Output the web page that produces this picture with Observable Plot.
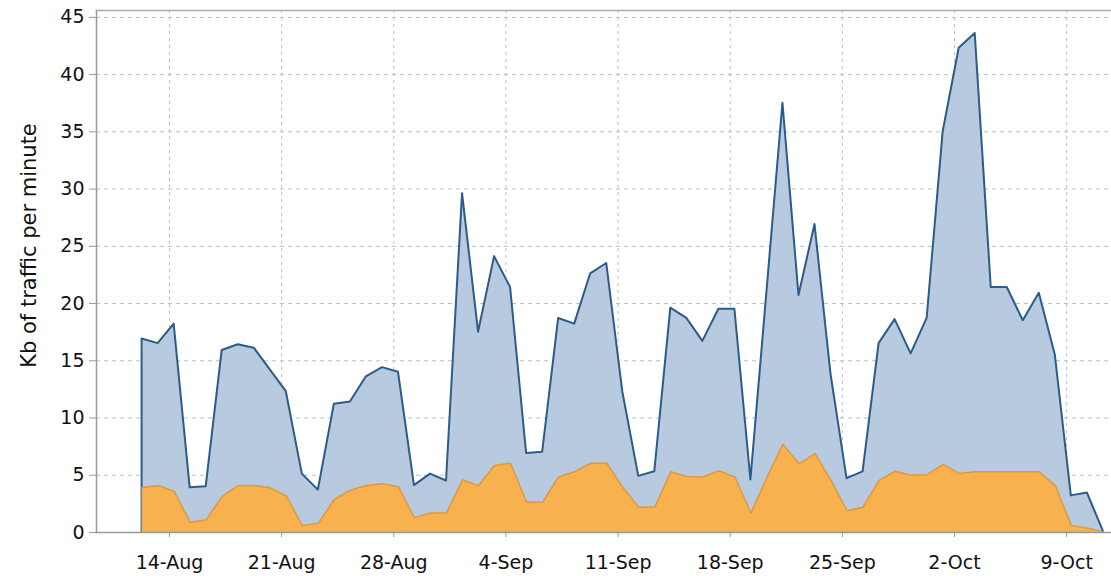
<!DOCTYPE html>
<html><head><meta charset="utf-8">
<script src="https://cdn.jsdelivr.net/npm/d3@7"></script>
<script src="https://cdn.jsdelivr.net/npm/@observablehq/plot@0.6"></script>
<style>html,body{margin:0;padding:0;background:#fff}</style>
</head><body><div id="chart"></div>
<script>
// First sample day; one sample per day (taken ~07:00)
const startDay = "2011-08-12";
const sampleHour = 7;
const total = [16.9,16.5,18.2,3.9,4.0,15.9,16.4,16.1,14.2,12.3,
               5.1,3.7,11.2,11.4,13.6,14.4,14.0,4.1,5.1,4.5,
               29.6,17.5,24.1,21.4,6.9,7.0,18.7,18.2,22.6,23.5,
               12.3,4.9,5.3,19.6,18.7,16.7,19.5,19.5,4.6,21.0,
               37.5,20.7,26.9,13.8,4.7,5.3,16.5,18.6,15.6,18.7,
               35.0,42.3,43.6,21.4,21.4,18.5,20.9,15.5,3.2,3.45,0.1];
const part = [3.9,4.1,3.6,0.9,1.1,3.15,4.1,4.1,3.9,3.2,
              0.6,0.8,2.9,3.7,4.1,4.25,4.0,1.3,1.7,1.7,
              4.6,4.1,5.85,6.05,2.65,2.65,4.85,5.3,6.05,6.05,
              3.95,2.2,2.2,5.3,4.9,4.85,5.4,4.85,1.7,4.8,
              7.7,6.0,6.9,4.55,1.9,2.2,4.55,5.35,5.0,5.05,
              5.95,5.15,5.3,5.3,5.3,5.3,5.3,4.1,0.6,0.4,0.05];
const xTickDates = ["2011-08-14","2011-08-21","2011-08-28","2011-09-04","2011-09-11",
                    "2011-09-18","2011-09-25","2011-10-02","2011-10-09"];
const yTicks = [0,5,10,15,20,25,30,35,40,45];
const yLabel = "Kb of traffic per minute";
const xDomain = ["2011-08-09T10:40Z","2011-10-11T19:10Z"];
const yDomain = [0, 45.6];

const start = new Date(startDay);
const days = d3.utcDay.range(start, d3.utcDay.offset(start, total.length))
  .map(d => d3.utcHour.offset(d, sampleHour));
const data = days.map((date, i) => ({date, total: total[i], part: part[i]}));
const xTicks = xTickDates.map(d => new Date(d));

const chart = Plot.plot({
  width: 1111, height: 576,
  marginLeft: 96, marginRight: 0, marginTop: 10, marginBottom: 44,
  style: {fontFamily: "DejaVu Sans", fontSize: "19px", color: "#111", background: "#fff"},
  x: {type: "utc", domain: xDomain.map(d => new Date(d))},
  y: {domain: yDomain},
  marks: [
    Plot.gridX(xTicks, {stroke: "#bdbdbd", strokeOpacity: 1, strokeDasharray: "3,4"}),
    Plot.gridY(yTicks, {stroke: "#bdbdbd", strokeOpacity: 1, strokeDasharray: "4,4"}),
    Plot.areaY(data, {x: "date", y: "total", fill: "#b7cadf", stroke: "#2b5c8a", strokeWidth: 2, strokeLinejoin: "round"}),
    Plot.areaY(data, {x: "date", y: "part", fill: "#f7b14e"}),
    Plot.lineY(data, {x: "date", y: "part", stroke: "#dc9a42", strokeWidth: 1.5}),
    Plot.frame({anchor: "left", stroke: "#999", strokeWidth: 1.5}),
    Plot.frame({anchor: "top", stroke: "#aaa", strokeWidth: 1.5}),
    Plot.frame({anchor: "bottom", stroke: "#999", strokeWidth: 1.5}),
    Plot.axisX(xTicks, {tickFormat: d3.utcFormat("%-d-%b"), tickSize: 5, tickPadding: 18, stroke: "#999", label: null}),
    Plot.axisY(yTicks, {tickSize: 7, tickPadding: 5, stroke: "#999", label: null}),
    Plot.text([yLabel], {text: d => d, frameAnchor: "left", textAnchor: "middle", rotate: -90, dx: -67, dy: -26, fontSize: 21, fill: "#111"})
  ]
});
document.getElementById("chart").appendChild(chart);
</script>
</body></html>
